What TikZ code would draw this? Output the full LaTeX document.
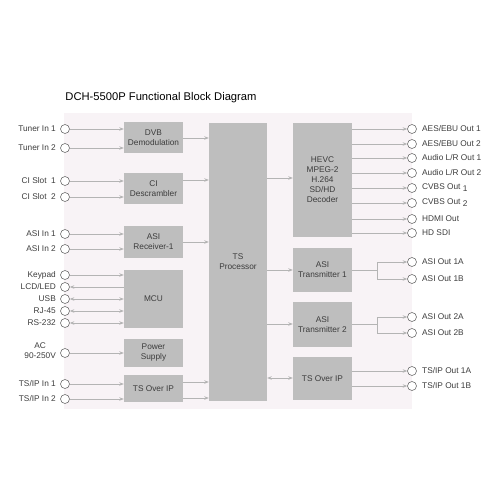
\documentclass[tikz,border=0pt]{standalone}
\usepackage{fontspec}
\setmainfont{Liberation Sans}
\usetikzlibrary{arrows.meta}
\definecolor{bgpink}{HTML}{F8F3F6}
\definecolor{blkgray}{HTML}{BEBEBE}
\definecolor{arrgray}{HTML}{B4B4B4}
\definecolor{circgray}{HTML}{6E6E6E}
\definecolor{txtgray}{HTML}{3C3C3C}
\begin{document}
\begin{tikzpicture}[x=1pt,y=-1pt,
  blk/.style={fill=blkgray,draw=none,minimum width=59pt,align=center,inner sep=0pt,
    font=\fontsize{8.3}{10}\selectfont,text=txtgray},
  port/.style={circle,draw=circgray,fill=white,line width=0.6pt,minimum size=9pt,inner sep=0pt},
  lab/.style={font=\fontsize{8.3}{10}\selectfont,text=txtgray,inner sep=0pt},
  arr/.style={draw=arrgray,line width=0.8pt,-{Stealth[length=4.5pt,width=3.5pt]}},
  darr/.style={draw=arrgray,line width=0.8pt,{Stealth[length=4.5pt,width=3.5pt]}-{Stealth[length=4.5pt,width=3.5pt]}},
  ln/.style={draw=arrgray,line width=0.8pt}]
\useasboundingbox (0,0) rectangle (500,500);
\fill[bgpink] (64,113) rectangle (412,409);
\node[font=\fontsize{11.2}{13}\selectfont,text=black] (title) at (161,98) {DCH-5500P Functional Block Diagram};

% blocks
\node[blk,minimum height=31pt] (dvb) at (153.5,137.5) {DVB\\Demodulation};
\node[blk,minimum height=31pt] (ci) at (153.5,188.5) {CI\\Descrambler};
\node[blk,minimum height=32pt] (asir) at (153.5,242) {ASI\\Receiver-1};
\node[blk,minimum height=58pt] (mcu) at (153.5,299) {MCU};
\node[blk,minimum height=28pt] (pwr) at (153.5,353) {Power\\Supply};
\node[blk,minimum height=27pt] (tsipl) at (153.5,388.5) {TS Over IP};
\node[blk,minimum width=58pt,minimum height=278pt] (tsp) at (238,262) {TS\\Processor};
\node[blk,minimum height=114pt] (hevc) at (322.5,180) {HEVC\\MPEG-2\\H.264\\SD/HD\\Decoder};
\node[blk,minimum height=44pt] (asit1) at (322.5,270) {ASI\\Transmitter 1};
\node[blk,minimum height=45pt] (asit2) at (322.5,324.5) {ASI\\Transmitter 2};
\node[blk,minimum height=43pt] (tsipr) at (322.5,378.5) {TS Over IP};

% left ports
\foreach \n/\y/\t in {ti1/129/{Tuner In 1},ti2/148/{Tuner In 2},cs1/181/{CI Slot\ \ 1},cs2/197/{CI Slot\ \ 2},
  ai1/234/{ASI In 1},ai2/249/{ASI In 2},kp/275/{Keypad},lcd/287/{LCD/LED},usb/299/{USB},rj/311/{RJ-45},rs/323/{RS-232},
  tii1/384/{TS/IP In 1},tii2/399/{TS/IP In 2}}{
  \node[port] (\n) at (65,\y) {};
  \node[lab,anchor=east] (\n l) at (56,\y) {\t};
}
\node[port] (ac) at (65,353) {};
\node[lab,anchor=east,align=center] (acl) at (56,351) {AC\\90-250V};

% right ports
\foreach \n/\y/\t in {ae1/129/{AES/EBU Out 1},ae2/144/{AES/EBU Out 2},au1/158/{Audio L/R Out 1},au2/173/{Audio L/R Out 2},
  cv1/188/{CVBS Out \raisebox{-2pt}{1}},cv2/203/{CVBS Out \raisebox{-2pt}{2}},hdmi/219/{HDMI Out},sdi/233/{HD SDI},
  ao1a/262/{ASI Out 1A},ao1b/279/{ASI Out 1B},ao2a/317/{ASI Out 2A},ao2b/333/{ASI Out 2B},
  to1a/371/{TS/IP Out 1A},to1b/386/{TS/IP Out 1B}}{
  \node[port] (\n) at (412,\y) {};
  \node[lab,anchor=west] (\n l) at (422,\y) {\t};
}

% left connectors
\foreach \n/\b in {ti1/dvb,ti2/dvb,cs1/ci,cs2/ci,ai1/asir,ai2/asir,kp/mcu,ac/pwr,tii1/tsipl,tii2/tsipl}
  \draw[arr] (\n) -- (\n -| \b.west);
\draw[arr] (lcd -| mcu.west) -- (lcd);
\foreach \n in {usb,rj,rs}
  \draw[darr] (\n) -- (\n -| mcu.west);

% blocks to TS processor
\coordinate (c1) at (0,138);
\coordinate (c2) at (0,180);
\coordinate (c3) at (0,242);
\coordinate (c4) at (0,382);
\coordinate (c5) at (0,398);
\draw[arr] (dvb.east |- c1) -- (tsp.west |- c1);
\draw[arr] (ci.east |- c2) -- (tsp.west |- c2);
\draw[arr] (asir.east |- c3) -- (tsp.west |- c3);
\draw[arr] (tsipl.east |- c4) -- (tsp.west |- c4);
\draw[arr] (tsipl.east |- c5) -- (tsp.west |- c5);

% TS processor to right blocks
\coordinate (d1) at (0,178);
\coordinate (d2) at (0,270);
\coordinate (d3) at (0,324);
\coordinate (d4) at (0,378);
\draw[arr] (tsp.east |- d1) -- (hevc.west |- d1);
\draw[arr] (tsp.east |- d2) -- (asit1.west |- d2);
\draw[arr] (tsp.east |- d3) -- (asit2.west |- d3);
\draw[darr] (tsp.east |- d4) -- (tsipr.west |- d4);

% right connectors
\foreach \n in {ae1,ae2,au1,au2,cv1,cv2,hdmi,sdi}
  \draw[arr] (\n -| hevc.east) -- (\n);
\foreach \n in {to1a,to1b}
  \draw[arr] (\n -| tsipr.east) -- (\n);
\coordinate (b1) at (377,270);
\coordinate (b2) at (377,324.5);
\draw[ln] (asit1.east |- b1) -- (b1);
\draw[ln] (b1 |- ao1a) -- (b1 |- ao1b);
\draw[arr] (b1 |- ao1a) -- (ao1a);
\draw[arr] (b1 |- ao1b) -- (ao1b);
\draw[ln] (asit2.east |- b2) -- (b2);
\draw[ln] (b2 |- ao2a) -- (b2 |- ao2b);
\draw[arr] (b2 |- ao2a) -- (ao2a);
\draw[arr] (b2 |- ao2b) -- (ao2b);
\end{tikzpicture}
\end{document}
